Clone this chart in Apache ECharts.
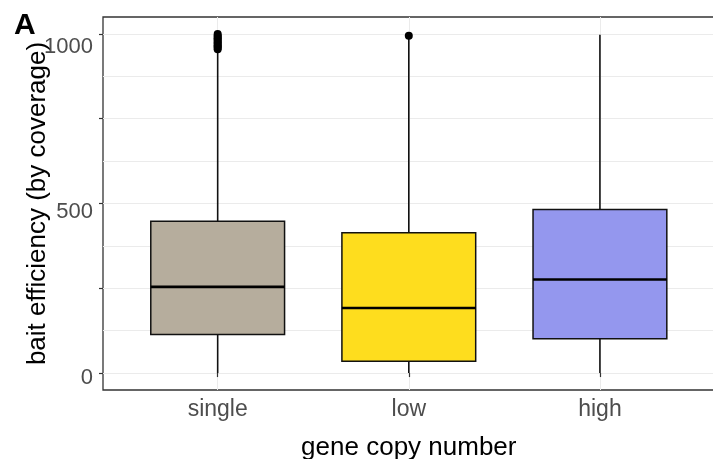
<!DOCTYPE html>
<html>
<head>
<meta charset="utf-8">
<script src="https://cdn.jsdelivr.net/npm/echarts@6/dist/echarts.min.js"></script>
<style>html,body{margin:0;padding:0;background:#fff;}#chart{width:713px;height:459px;}</style>
</head>
<body>
<div id="chart"></div>
<script>
// ---- data ----
const categories = ['single', 'low', 'high'];
const lowerWhisker = [0, 0, 0];
const q1 = [114, 35, 101];
const median = [254, 192, 276];
const q3 = [448, 414, 482];
const upperWhisker = [948, 988, 998];
const outliersSingle = [955, 959, 963, 967, 971, 975, 979, 983, 987, 991, 995, 1000];
const outliersLow = [995];
const boxColors = ['#B6AD9D', '#FEDD1E', '#9497EE'];
const yLabelValues = [0, 500, 1000];
const yTickValues = [0, 250, 500, 750, 1000];
const yGridValues = [0, 125, 250, 375, 500, 625, 750, 875, 1000];
const xPositions = [1, 2, 3];

const boxData = categories.map((c, i) => [xPositions[i], lowerWhisker[i], q1[i], median[i], q3[i], upperWhisker[i]]);
const outlierData = []
  .concat(outliersSingle.map(v => [xPositions[0], v]))
  .concat(outliersLow.map(v => [xPositions[1], v]));

const FONT = 'Liberation Sans, Arial, Helvetica, sans-serif';
const chart = echarts.init(document.getElementById('chart'), null, {renderer: 'canvas'});

const yLabelRich = {
  v0: {fontSize: 22, color: '#4D4D4D', fontFamily: FONT, padding: [9, 0, 0, 0]},
  v500: {fontSize: 22, color: '#4D4D4D', fontFamily: FONT, padding: [16, 0, 0, 0]},
  v1000: {fontSize: 22, color: '#4D4D4D', fontFamily: FONT, padding: [25, 0, 0, 0]}
};

chart.setOption({
  animation: false,
  backgroundColor: '#fff',
  textStyle: {fontFamily: FONT},
  title: {
    text: 'A', left: 9, top: 6,
    textStyle: {fontSize: 30, fontWeight: 'bold', color: '#000', fontFamily: FONT}
  },
  grid: {
    left: 103, top: 17, width: 611.6, height: 373,
    show: true, borderColor: '#333', borderWidth: 1.3, backgroundColor: 'transparent',
    containLabel: false, outerBoundsMode: 'none'
  },
  xAxis: {
    type: 'value', min: 0.4, max: 3.6,
    name: 'gene copy number', nameLocation: 'middle', nameGap: 45, nameMoveOverlap: false,
    nameTextStyle: {fontSize: 26, color: '#000', fontFamily: FONT},
    axisLine: {show: false},
    axisTick: {show: true, customValues: xPositions, length: 4, lineStyle: {color: '#333', width: 1.2}},
    axisLabel: {
      customValues: xPositions, fontSize: 23, color: '#4D4D4D', margin: 8,
      formatter: v => categories[Math.round(v) - 1] || ''
    },
    splitLine: {show: true, lineStyle: {color: '#EBEBEB', width: 1}}
  },
  yAxis: [{
    type: 'value', min: -50, max: 1050,
    name: 'bait efficiency (by coverage)', nameLocation: 'middle', nameGap: 52, nameMoveOverlap: false,
    nameTextStyle: {fontSize: 26, color: '#000', fontFamily: FONT},
    axisLine: {show: false},
    axisTick: {show: true, customValues: yTickValues, length: 4, lineStyle: {color: '#333', width: 1.2}},
    axisLabel: {
      customValues: yLabelValues, margin: 10,
      formatter: v => '{v' + v + '|' + String(v) + '}',
      rich: yLabelRich
    },
    splitLine: {show: false}
  }, {
    type: 'value', min: -50, max: 1050, position: 'left',
    axisLine: {show: false},
    axisTick: {show: false, customValues: yGridValues},
    axisLabel: {show: false},
    splitLine: {show: true, lineStyle: {color: '#EBEBEB', width: 1}}
  }],
  series: [{
    type: 'custom',
    xAxisIndex: 0, yAxisIndex: 0,
    data: boxData,
    encode: {x: 0, y: [1, 2, 3, 4, 5]},
    z: 2,
    renderItem: function (params, api) {
      const x = api.value(0);
      const lo = api.coord([x, api.value(1)]);
      const b1 = api.coord([x, api.value(2)]);
      const md = api.coord([x, api.value(3)]);
      const b3 = api.coord([x, api.value(4)]);
      const hi = api.coord([x, api.value(5)]);
      const w = api.size([0.7, 0])[0];
      const cx = lo[0];
      const idx = params.dataIndex;
      const lineStyle = {stroke: '#111', lineWidth: 1.6};
      return {
        type: 'group',
        children: [
          {type: 'line', shape: {x1: cx, y1: lo[1], x2: cx, y2: b1[1]}, style: lineStyle},
          {type: 'line', shape: {x1: cx, y1: b3[1], x2: cx, y2: hi[1]}, style: lineStyle},
          {type: 'rect', shape: {x: cx - w / 2, y: b3[1], width: w, height: b1[1] - b3[1]},
            style: {fill: boxColors[idx], stroke: '#111', lineWidth: 1.5}},
          {type: 'line', shape: {x1: cx - w / 2, y1: md[1], x2: cx + w / 2, y2: md[1]},
            style: {stroke: '#000', lineWidth: 2.6}}
        ]
      };
    }
  }, {
    type: 'scatter',
    xAxisIndex: 0, yAxisIndex: 0,
    data: outlierData,
    symbol: 'circle', symbolSize: 8,
    itemStyle: {color: '#000', opacity: 1},
    z: 3
  }]
});
</script>
</body>
</html>
